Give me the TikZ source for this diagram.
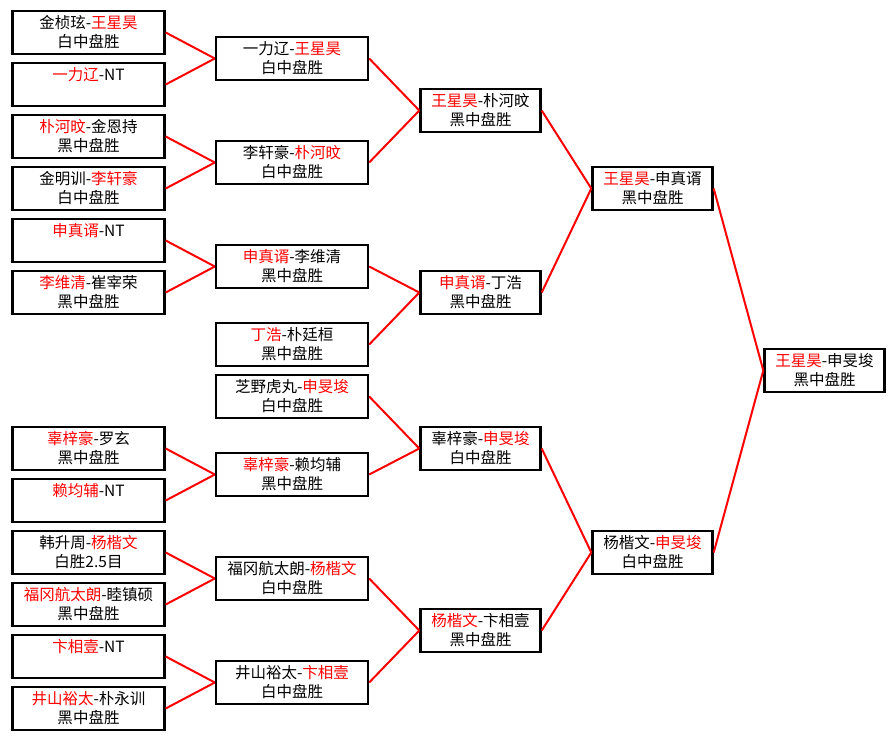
\documentclass[tikz,border=0pt]{standalone}
\usepackage{fontspec}
\setmainfont{Noto Sans CJK SC}
\begin{document}
\begin{tikzpicture}[x=1pt, y=-1pt,
    game/.style={draw, line width=2.4pt, minimum width=152pt, minimum height=43pt,
      inner sep=0pt, align=center, font=\fontsize{15.5}{19}\selectfont},
    short/.style={game, minimum width=120pt},
    link/.style={red, line width=2pt}]
  \useasboundingbox (0,0) rectangle (896,741);

  % round 1
  \node[game] (A1) at (88.5, 32.5) {金桢玹-\textcolor{red}{王星昊}\\白中盘胜};
  \node[game] (A2) at (88.5, 84.5) {\textcolor{red}{一力辽}-NT\\\phantom{白}};
  \node[game] (A3) at (88.5, 136.5) {\textcolor{red}{朴河旼}-金恩持\\黑中盘胜};
  \node[game] (A4) at (88.5, 188.5) {金明训-\textcolor{red}{李轩豪}\\白中盘胜};
  \node[game] (A5) at (88.5, 240.5) {\textcolor{red}{申真谞}-NT\\\phantom{白}};
  \node[game] (A6) at (88.5, 292.5) {\textcolor{red}{李维清}-崔宰荣\\黑中盘胜};
  \node[game] (A7) at (88.5, 448.5) {\textcolor{red}{辜梓豪}-罗玄\\黑中盘胜};
  \node[game] (A8) at (88.5, 500.5) {\textcolor{red}{赖均辅}-NT\\\phantom{白}};
  \node[game] (A9) at (88.5, 552.5) {韩升周-\textcolor{red}{杨楷文}\\白胜2.5目};
  \node[game] (A10) at (88.5, 604.5) {\textcolor{red}{福冈航太朗}-睦镇硕\\黑中盘胜};
  \node[game] (A11) at (88.5, 656.5) {\textcolor{red}{卞相壹}-NT\\\phantom{白}};
  \node[game] (A12) at (88.5, 708.5) {\textcolor{red}{井山裕太}-朴永训\\黑中盘胜};

  % round 2
  \node[game] (B1) at (292, 58.5) {一力辽-\textcolor{red}{王星昊}\\白中盘胜};
  \node[game] (B2) at (292, 162.5) {李轩豪-\textcolor{red}{朴河旼}\\白中盘胜};
  \node[game] (B3) at (292, 266.5) {\textcolor{red}{申真谞}-李维清\\黑中盘胜};
  \node[game] (B4) at (292, 344.5) {\textcolor{red}{丁浩}-朴廷桓\\黑中盘胜};
  \node[game] (B5) at (292, 396.5) {芝野虎丸-\textcolor{red}{申旻埈}\\白中盘胜};
  \node[game] (B6) at (292, 474.5) {\textcolor{red}{辜梓豪}-赖均辅\\黑中盘胜};
  \node[game] (B7) at (292, 578.5) {福冈航太朗-\textcolor{red}{杨楷文}\\白中盘胜};
  \node[game] (B8) at (292, 682.5) {井山裕太-\textcolor{red}{卞相壹}\\白中盘胜};

  % round 3
  \node[short] (C1) at (480.5, 110.5) {\textcolor{red}{王星昊}-朴河旼\\黑中盘胜};
  \node[short] (C2) at (480.5, 292.5) {\textcolor{red}{申真谞}-丁浩\\黑中盘胜};
  \node[short] (C3) at (480.5, 448.5) {辜梓豪-\textcolor{red}{申旻埈}\\白中盘胜};
  \node[short] (C4) at (480.5, 630.5) {\textcolor{red}{杨楷文}-卞相壹\\黑中盘胜};

  % semi final
  \node[short] (D1) at (652.5, 188.5) {\textcolor{red}{王星昊}-申真谞\\黑中盘胜};
  \node[short] (D2) at (652.5, 552.5) {杨楷文-\textcolor{red}{申旻埈}\\白中盘胜};

  % final
  \node[short] (F) at (824.5, 370.5) {\textcolor{red}{王星昊}-申旻埈\\黑中盘胜};

  \draw[link] (A1.east) -- (B1.west);
  \draw[link] (A2.east) -- (B1.west);
  \draw[link] (A3.east) -- (B2.west);
  \draw[link] (A4.east) -- (B2.west);
  \draw[link] (A5.east) -- (B3.west);
  \draw[link] (A6.east) -- (B3.west);
  \draw[link] (A7.east) -- (B6.west);
  \draw[link] (A8.east) -- (B6.west);
  \draw[link] (A9.east) -- (B7.west);
  \draw[link] (A10.east) -- (B7.west);
  \draw[link] (A11.east) -- (B8.west);
  \draw[link] (A12.east) -- (B8.west);

  \draw[link] (B1.east) -- (C1.west);
  \draw[link] (B2.east) -- (C1.west);
  \draw[link] (B3.east) -- (C2.west);
  \draw[link] (B4.east) -- (C2.west);
  \draw[link] (B5.east) -- (C3.west);
  \draw[link] (B6.east) -- (C3.west);
  \draw[link] (B7.east) -- (C4.west);
  \draw[link] (B8.east) -- (C4.west);

  \draw[link] (C1.east) -- (D1.west);
  \draw[link] (C2.east) -- (D1.west);
  \draw[link] (C3.east) -- (D2.west);
  \draw[link] (C4.east) -- (D2.west);

  \draw[link] (D1.east) -- (F.west);
  \draw[link] (D2.east) -- (F.west);
\end{tikzpicture}
\end{document}
